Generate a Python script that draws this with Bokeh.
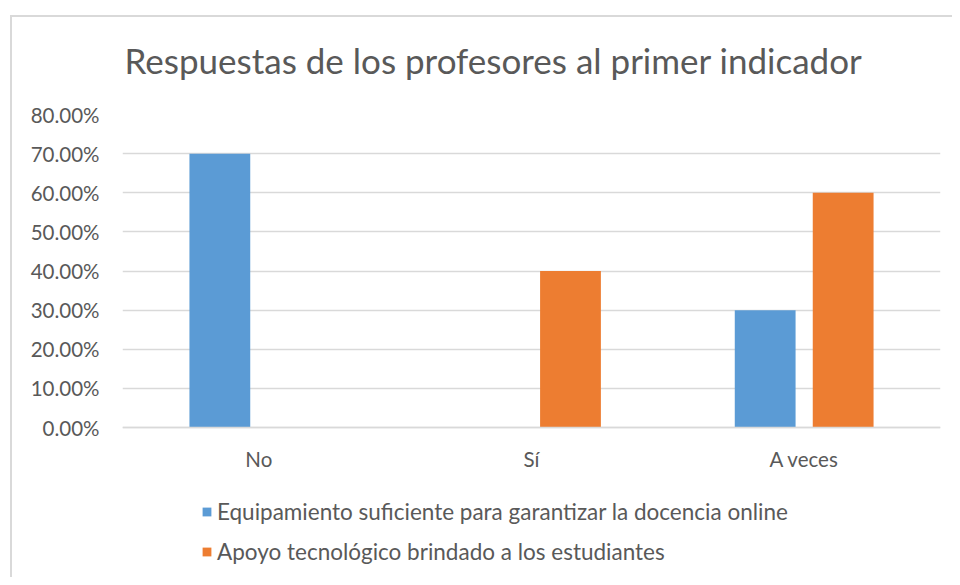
from bokeh.plotting import figure
from bokeh.models import (FactorRange, Range1d, FixedTicker, PrintfTickFormatter,
                          Legend, LegendItem, ColumnDataSource, Title)
from bokeh.transform import dodge
from bokeh.embed import file_html
from bokeh.resources import INLINE

categories = ["No", "Sí", "A veces"]
series_names = ["Equipamiento suficiente para garantizar la docencia online",
                "Apoyo tecnológico brindado a los estudiantes"]
equipamiento = [70, 0, 30]
apoyo = [0, 40, 60]
y_ticks = [0, 10, 20, 30, 40, 50, 60, 70, 80]

FONT = "Lato"
GREY = "#595959"
EDGE = "#D9D9D9"

# frame spans 114px .. 567px; 80 -> 114px, 0 -> 427px (room below for legend)
Y_TOP = 80
Y_BOTTOM = -(567 - 427) / ((427 - 114) / 80)

src = ColumnDataSource(dict(cat=categories, s1=equipamiento, s2=apoyo))

p = figure(width=952, height=577, x_range=FactorRange(*categories, range_padding=0),
           y_range=Range1d(Y_BOTTOM, Y_TOP), output_backend="svg", toolbar_location=None,
           min_border_left=122, min_border_right=12, min_border_top=114,
           min_border_bottom=10)
p.outline_line_color = None
p.border_fill_color = None
p.styles = {"background": (f"linear-gradient({EDGE}, {EDGE}) 10px 15px / 2px calc(100% - 15px) no-repeat, "
                           f"linear-gradient({EDGE}, {EDGE}) 10px 15px / calc(100% - 10px) 2px no-repeat, "
                           "#ffffff")}

t = Title(text="Respuestas de los profesores al primer indicador", align="left",
          offset=2, text_font=FONT, text_font_size="35px", text_color=GREY,
          text_font_style="normal", standoff=67)
p.add_layout(t, "above")

r1 = p.vbar(x=dodge("cat", -0.143, range=p.x_range), top="s1", width=0.223,
            source=src, fill_color="#5B9BD5", line_color=None)
r2 = p.vbar(x=dodge("cat", 0.143, range=p.x_range), top="s2", width=0.223,
            source=src, fill_color="#ED7D31", line_color=None)

p.xgrid.grid_line_color = None
p.ygrid.grid_line_color = EDGE
p.ygrid.grid_line_width = 1.5
p.yaxis.ticker = FixedTicker(ticks=y_ticks)
p.yaxis.formatter = PrintfTickFormatter(format="%.2f%%")
p.yaxis.axis_line_color = None
p.yaxis.major_tick_line_color = None
p.yaxis.minor_tick_line_color = None
p.yaxis.major_label_standoff = 17
p.xaxis.fixed_location = 0
p.xaxis.axis_line_color = EDGE
p.xaxis.axis_line_width = 1.5
p.xaxis.major_tick_line_color = None
p.xaxis.major_label_standoff = 13
for ax in (p.xaxis[0], p.yaxis[0]):
    ax.major_label_text_font = FONT
    ax.major_label_text_font_size = "20.5px"
    ax.major_label_text_color = GREY

legend = Legend(items=[LegendItem(label=series_names[0], renderers=[r1]),
                       LegendItem(label=series_names[1], renderers=[r2])],
                location=(79, 2), orientation="vertical",
                label_text_font=FONT, label_text_font_size="22.5px",
                label_text_color=GREY, glyph_width=11, glyph_height=11,
                spacing=13, label_standoff=5, border_line_color=None,
                background_fill_alpha=0, padding=0, margin=0)
p.add_layout(legend, "center")

open("out.html", "w").write(file_html(p, INLINE))
